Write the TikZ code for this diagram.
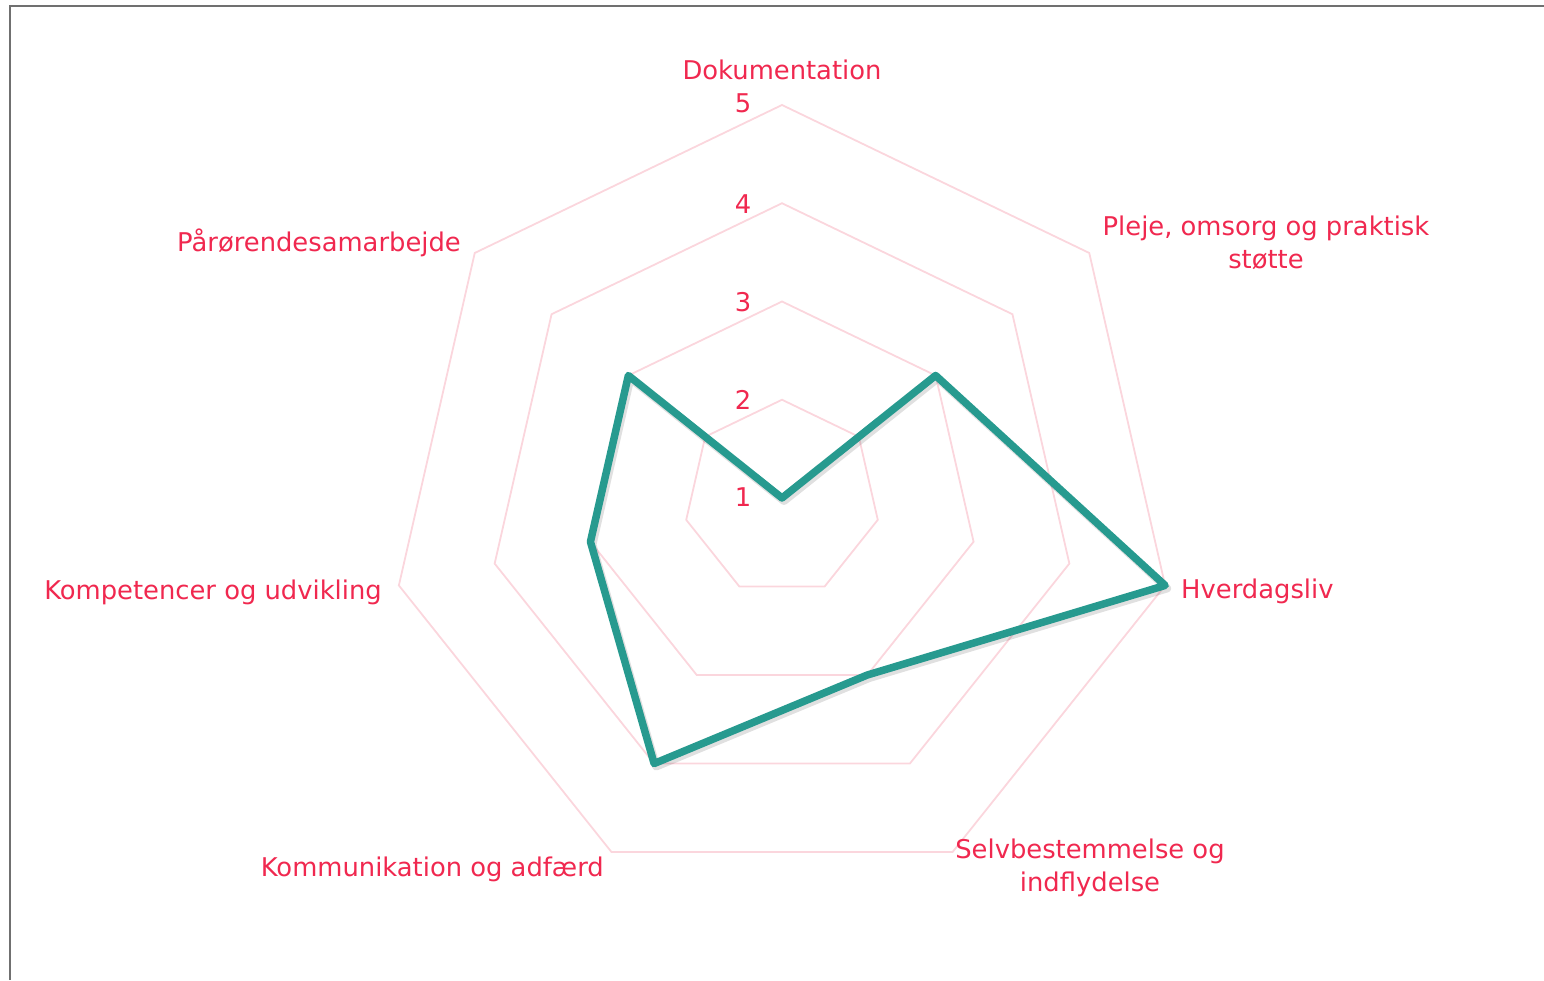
\documentclass[tikz,border=0pt]{standalone}
\usepackage{fontspec}
\setmainfont{DejaVu Sans}
\usetikzlibrary{calc}
\definecolor{lbl}{HTML}{F0284F}
\definecolor{gridc}{HTML}{FBD6DD}
\definecolor{teal2}{HTML}{279A8F}
\definecolor{frame}{HTML}{707070}
\tikzset{
  lab/.style={text=lbl, inner sep=0pt, font=\fontsize{25.8}{33}\selectfont},
  gridline/.style={draw=gridc, line width=1.8pt, line join=miter},
  series/.style={draw=teal2, line width=7.5pt, line join=round},
  shadowline/.style={draw=black, opacity=0.12, line width=8pt, line join=round},
}
\begin{document}
\begin{tikzpicture}[x=1pt,y=1pt]
\useasboundingbox (0,0) rectangle (1544,980);
% frame
\draw[frame, line width=2.6pt] (10,0) -- (10,974) -- (1544,974);
\coordinate (C) at (782,482);
\def\st{98.25}
% grid heptagons (levels 2..5)
\foreach \l in {2,3,4,5}{
  \pgfmathsetmacro{\r}{(\l-1)*\st}
  \draw[gridline] ($(C)+(90:\r pt)$)
    \foreach \k in {1,...,6}{ -- ($(C)+({90-\k*360/7}:\r pt)$) } -- cycle;
}
% data points
\foreach \k/\v in {0/1,1/3,2/5,3/3,4/4,5/3,6/3}{
  \pgfmathsetmacro{\r}{(\v-1)*\st+0.001}
  \coordinate (d\k) at ($(C)+({90-\k*360/7}:\r pt)$);
}
\draw[shadowline, transform canvas={xshift=2pt,yshift=-3pt}] (d0) -- (d1) -- (d2) -- (d3) -- (d4) -- (d5) -- (d6) -- cycle;
\draw[series] (d0) -- (d1) -- (d2) -- (d3) -- (d4) -- (d5) -- (d6) -- cycle;
% scale numbers
\node[lab] (n5) at (743,877) {5};
\node[lab] (n4) at (743,776) {4};
\node[lab] (n3) at (743,678) {3};
\node[lab] (n2) at (743,580) {2};
\node[lab] (n1) at (743,483) {1};
% category labels
\node[lab, anchor=base] (a0) at (782,900) {Dokumentation};
\node[lab, anchor=north, align=center] (a1) at (1266,764) {Pleje, omsorg og praktisk\\støtte};
\node[lab, anchor=base west] (a2) at (1181,381) {Hverdagsliv};
\node[lab, anchor=north, align=center] (a3) at (1090,141) {Selvbestemmelse og\\indflydelse};
\node[lab, anchor=base east] (a4) at (604,104) {Kommunikation og adfærd};
\node[lab, anchor=base east] (a5) at (382,380) {Kompetencer og udvikling};
\node[lab, anchor=base east] (a6) at (461,728) {Pårørendesamarbejde};
\end{tikzpicture}
\end{document}
